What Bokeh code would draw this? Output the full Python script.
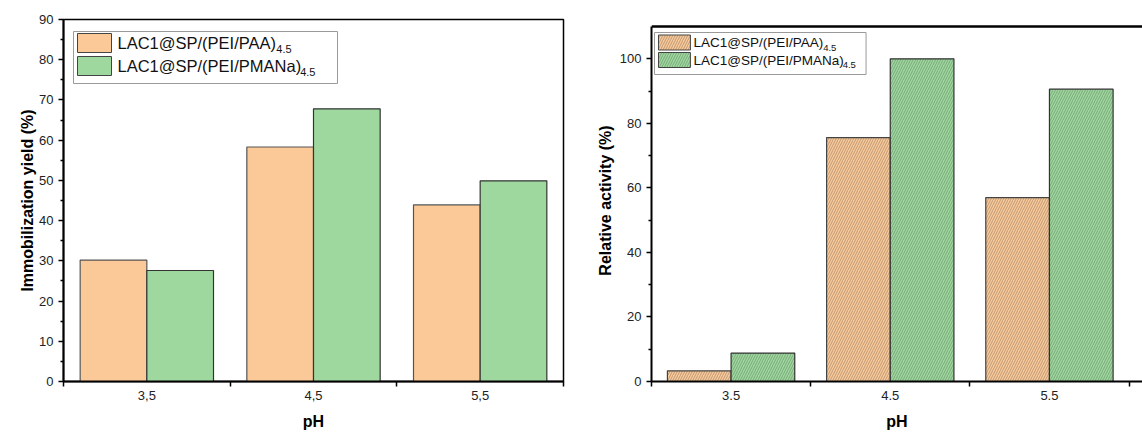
from bokeh.plotting import figure
from bokeh.layouts import row
from bokeh.models import (FixedTicker, Label, BoxAnnotation, Range1d, Span,
                          ColumnDataSource)
from bokeh.transform import dodge
from bokeh.embed import file_html
from bokeh.resources import INLINE

# ---------------- data ----------------
ph_labels_a = ["3,5", "4,5", "5,5"]
ph_labels_b = ["3.5", "4.5", "5.5"]
series_names = ["LAC1@SP/(PEI/PAA)", "LAC1@SP/(PEI/PMANa)"]
series_sub = "4.5"
yield_paa = [30.2, 58.3, 43.9]
yield_pmana = [27.6, 67.8, 49.9]
activity_paa = [3.3, 75.6, 57.0]
activity_pmana = [8.8, 100.0, 90.6]

ORANGE = "#FBC998"
GREEN = "#9ED89E"
FONT = "Liberation Sans"
HATCH_O = "#6e6050"
HATCH_G = "#4e6a4e"

ARIAL = {'L': .556, 'A': .667, 'C': .722, '1': .556, '@': 1.015, 'S': .667, 'P': .667,
         '/': .278, '(': .333, 'E': .667, 'I': .278, ')': .333, 'M': .833, 'N': .722,
         'a': .556}


def text_w(s, size):
    return sum(ARIAL.get(c, .556) for c in s) * size


def style_axes(p, yticks, yminor, xlabels, ylabel, ylabel_standoff):
    p.xgrid.visible = False
    p.ygrid.visible = False
    n = len(xlabels)
    p.xaxis.ticker = FixedTicker(ticks=list(range(1, n + 1)),
                                 minor_ticks=[i + 0.5 for i in range(0, n + 1)])
    p.xaxis.major_label_overrides = {i + 1: lab for i, lab in enumerate(xlabels)}
    p.yaxis.ticker = FixedTicker(ticks=yticks, minor_ticks=yminor)
    for ax in (p.xaxis[0], p.yaxis[0]):
        ax.axis_line_width = 2
        ax.axis_line_color = "black"
        ax.major_tick_line_width = 1.5
        ax.minor_tick_line_width = 1.5
        ax.major_tick_in = 0
        ax.minor_tick_in = 0
        ax.major_label_text_font = FONT
        ax.major_label_text_font_size = "13px"
        ax.major_label_text_color = "#222222"
        ax.axis_label_text_font = FONT
        ax.axis_label_text_font_size = "16px"
        ax.axis_label_text_font_style = "bold"
        ax.axis_label_text_color = "black"
    p.xaxis.major_tick_out = 0
    p.xaxis.minor_tick_out = 5
    p.xaxis.major_label_standoff = 4
    p.xaxis.axis_label = "pH"
    p.xaxis.axis_label_standoff = 10
    p.yaxis.major_tick_out = 5
    p.yaxis.minor_tick_out = 3
    p.yaxis.major_label_standoff = 5
    p.yaxis.axis_label = ylabel
    p.yaxis.axis_label_standoff = ylabel_standoff


FRAME_TOP = 19
FRAME_BOTTOM = 381
H = 433

# ---------------- panel (a) ----------------
xa = list(range(1, len(ph_labels_a) + 1))
src_a = ColumnDataSource(dict(x=xa, paa=yield_paa, pmana=yield_pmana))

pa = figure(width=593, height=H, x_range=Range1d(0.5, 3.5), y_range=Range1d(0, 90),
            output_backend="svg", toolbar_location=None,
            min_border_left=63, min_border_right=30, min_border_top=FRAME_TOP,
            min_border_bottom=H - FRAME_BOTTOM)
pa.outline_line_color = "black"
pa.outline_line_width = 1.5
pa.vbar(x=dodge("x", -0.2, range=pa.x_range), top="paa", width=0.4, source=src_a,
        fill_color=ORANGE, line_color="#555555", line_width=1.2)
pa.vbar(x=dodge("x", 0.2, range=pa.x_range), top="pmana", width=0.4, source=src_a,
        fill_color=GREEN, line_color="#333333", line_width=1.2)
style_axes(pa, list(range(0, 91, 10)), list(range(5, 90, 10)), ph_labels_a,
           "Immobilization yield (%)", 0)


def a_x(px):
    return 0.5 + (px - 63) / (500 / 3)


def a_y(py):
    return (FRAME_BOTTOM - py) * 90 / (FRAME_BOTTOM - FRAME_TOP)


pa.add_layout(BoxAnnotation(left=a_x(73), right=a_x(337), top=a_y(31), bottom=a_y(83),
                            fill_color="white", fill_alpha=1, line_color="#9a9a9a",
                            line_alpha=1, line_width=1))
rows_a = [(42.5, ORANGE), (65.5, GREEN)]
for (cy, col), name in zip(rows_a, series_names):
    pa.add_layout(BoxAnnotation(left=a_x(77), right=a_x(111), top=a_y(cy - 9.5),
                                bottom=a_y(cy + 9.5), fill_color=col, fill_alpha=1,
                                line_color="#444444", line_alpha=1, line_width=1))
    pa.add_layout(Label(x=a_x(117), y=a_y(cy), text=name, text_font=FONT,
                        text_font_size="16.5px", text_baseline="middle",
                        text_color="#111111"))
    pa.add_layout(Label(x=a_x(117), y=a_y(cy), x_offset=text_w(name, 16.5) - 1, y_offset=-6,
                        text=series_sub, text_font=FONT, text_font_size="11px",
                        text_baseline="middle", text_color="#111111"))
pa.add_layout(Label(x=a_x(8), y=a_y(30), text="(a)", text_font=FONT, text_font_size="16px",
                    text_baseline="middle", text_color="#111111"))

# ---------------- panel (b) ----------------
B_PX_PER_UNIT = 159.5
B_PX_PER_PCT = 3.227
XB_END = 0.5 + 492 / B_PX_PER_UNIT
YB_END = (FRAME_BOTTOM - FRAME_TOP) / B_PX_PER_PCT
xb = list(range(1, len(ph_labels_b) + 1))
src_b = ColumnDataSource(dict(x=xb, paa=activity_paa, pmana=activity_pmana))

pb = figure(width=549, height=H, x_range=Range1d(0.5, XB_END), y_range=Range1d(0, YB_END),
            output_backend="svg", toolbar_location=None,
            min_border_left=57, min_border_right=0, min_border_top=FRAME_TOP,
            min_border_bottom=H - FRAME_BOTTOM)
pb.outline_line_color = None
pb.vbar(x=dodge("x", -0.2, range=pb.x_range), top="paa", width=0.4, source=src_b,
        fill_color=ORANGE, line_color="#444444", line_width=1.2,
        hatch_pattern="/", hatch_scale=5, hatch_weight=0.45, hatch_color=HATCH_O)
pb.vbar(x=dodge("x", 0.2, range=pb.x_range), top="pmana", width=0.4, source=src_b,
        fill_color=GREEN, line_color="#333333", line_width=1.2,
        hatch_pattern="/", hatch_scale=5, hatch_weight=0.45, hatch_color=HATCH_G)
style_axes(pb, list(range(0, 101, 20)), list(range(10, 110, 20)), ph_labels_b,
           "Relative activity (%)", 3)


def b_x(px):
    return 0.5 + (px - 650) / B_PX_PER_UNIT


def b_y(py):
    return (FRAME_BOTTOM - py) / B_PX_PER_PCT


pb.yaxis.bounds = (0, b_y(26))
pb.add_layout(Span(location=b_y(26), dimension="width", line_color="black", line_width=2.5))

pb.add_layout(BoxAnnotation(left=b_x(653), right=b_x(865), top=b_y(32), bottom=b_y(74),
                            fill_color="white", fill_alpha=1, line_color="#9a9a9a",
                            line_alpha=1, line_width=1))
rows_b = [(42.0, ORANGE, HATCH_O), (59.5, GREEN, HATCH_G)]
for (cy, col, hc), name in zip(rows_b, series_names):
    pb.add_layout(BoxAnnotation(left=b_x(657), right=b_x(689), top=b_y(cy - 7.5),
                                bottom=b_y(cy + 7.5), fill_color=col, fill_alpha=1,
                                line_color="#444444", line_alpha=1, line_width=1,
                                hatch_pattern="/", hatch_scale=5, hatch_weight=0.45,
                                hatch_color=hc))
    pb.add_layout(Label(x=b_x(692), y=b_y(cy), text=name, text_font=FONT,
                        text_font_size="13.5px", text_baseline="middle",
                        text_color="#111111"))
    pb.add_layout(Label(x=b_x(692), y=b_y(cy), x_offset=text_w(name, 13.5) - 1, y_offset=-5,
                        text=series_sub, text_font=FONT, text_font_size="9.5px",
                        text_baseline="middle", text_color="#111111"))
pb.add_layout(Label(x=b_x(607), y=b_y(18), text="(b)", text_font=FONT, text_font_size="16px",
                    text_baseline="middle", text_color="#111111"))

layout = row(pa, pb)
open("out.html", "w").write(file_html(layout, INLINE))
